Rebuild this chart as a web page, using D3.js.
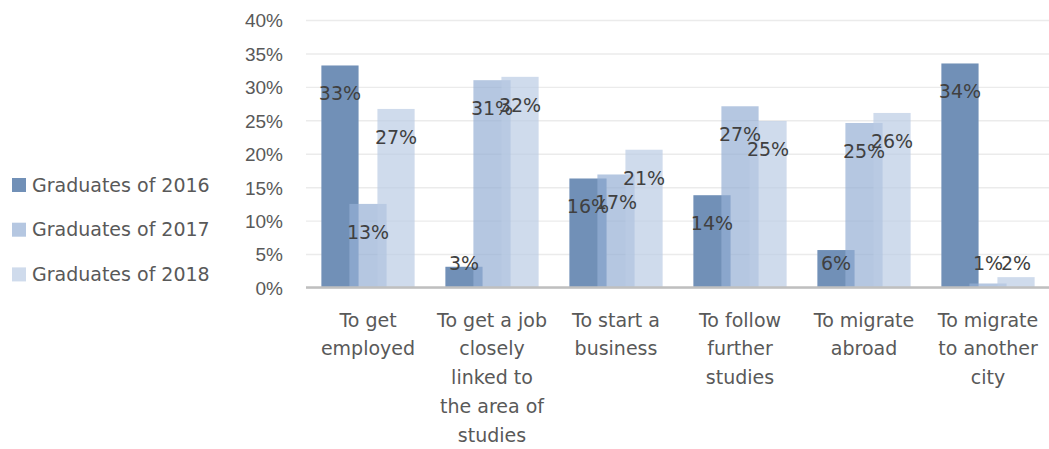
<!DOCTYPE html>
<html>
<head>
<meta charset="utf-8">
<script src="https://cdn.jsdelivr.net/npm/d3@7"></script>
<style>
  html, body { margin: 0; padding: 0; background: #fff; }
  svg { display: block; font-family: 'DejaVu Sans', sans-serif; }
</style>
</head>
<body>
<svg id="chart" width="1049" height="449"></svg>
<script>
// category labels, already broken into lines as in the picture
const categories = [
  ['To get', 'employed'],
  ['To get a job', 'closely', 'linked to', 'the area of', 'studies'],
  ['To start a', 'business'],
  ['To follow', 'further', 'studies'],
  ['To migrate', 'abroad'],
  ['To migrate', 'to another', 'city']
];
const series = ['Graduates of 2016', 'Graduates of 2017', 'Graduates of 2018'];
const grad2016 = [0.332, 0.031, 0.163, 0.138, 0.056, 0.335];
const grad2017 = [0.125, 0.310, 0.169, 0.271, 0.246, 0.006];
const grad2018 = [0.267, 0.315, 0.206, 0.249, 0.261, 0.0155];
const yTicks = [0, 0.05, 0.10, 0.15, 0.20, 0.25, 0.30, 0.35, 0.40];

const values = [grad2016, grad2017, grad2018];
const colors = ['#7190b7', '#95afd4', '#bacce4'];
const opacities = [1, 0.7, 0.7];

const width = 1049, height = 449;
const plot = { left: 306, right: 1050, top: 20, bottom: 287.5 };

const svg = d3.select('#chart');
const catKeys = categories.map(c => c.join(' '));

const x = d3.scaleBand()
  .domain(catKeys)
  .range([plot.left, plot.right])
  .paddingInner(0)
  .paddingOuter(0);

const y = d3.scaleLinear()
  .domain([0, 0.4])
  .range([plot.bottom, plot.top]);

const barW = x.bandwidth() * 0.3;
// bars overlap: centres 28px apart, narrower than bar width
const offset = d3.scalePoint()
  .domain(series)
  .range([-x.bandwidth() * 0.226, x.bandwidth() * 0.226]);

// gridlines + y tick labels
const yAxis = svg.append('g')
  .attr('transform', `translate(${plot.left},0)`)
  .call(d3.axisLeft(y)
    .tickValues(yTicks)
    .tickSize(-(width - plot.left))
    .tickPadding(23)
    .tickFormat(d3.format('.0%')));
yAxis.select('.domain').remove();
yAxis.selectAll('.tick line')
  .attr('stroke', '#ebebeb')
  .attr('stroke-width', 1.4);
yAxis.selectAll('.tick text')
  .attr('fill', '#595959')
  .attr('font-size', 19)
  .attr('dy', '0.36em');

// bars
series.forEach((s, si) => {
  svg.append('g')
    .selectAll('rect')
    .data(values[si])
    .join('rect')
    .attr('x', (d, i) => x(catKeys[i]) + x.bandwidth() / 2 + offset(s) - barW / 2)
    .attr('y', d => y(d))
    .attr('width', barW)
    .attr('height', d => y(0) - y(d))
    .attr('fill', colors[si])
    .attr('fill-opacity', opacities[si]);
});

// x axis line
svg.append('line')
  .attr('x1', plot.left).attr('x2', width)
  .attr('y1', y(0)).attr('y2', y(0))
  .attr('stroke', '#bfbfbf')
  .attr('stroke-width', 2.5);

// data labels, inside end, kept above the axis
series.forEach((s, si) => {
  svg.append('g')
    .selectAll('text')
    .data(values[si])
    .join('text')
    .attr('x', (d, i) => x(catKeys[i]) + x.bandwidth() / 2 + offset(s))
    .attr('y', d => Math.min(y(d) + 35, 269.5))
    .attr('text-anchor', 'middle')
    .attr('font-size', 19)
    .attr('fill', '#404040')
    .text(d => d3.format('.0%')(d));
});

// category labels
const catLabels = svg.append('g')
  .selectAll('text')
  .data(categories)
  .join('text')
  .attr('text-anchor', 'middle')
  .attr('font-size', 19)
  .attr('fill', '#595959')
  .attr('transform', (d, i) => `translate(${x(catKeys[i]) + x.bandwidth() / 2},326.7)`);
catLabels.selectAll('tspan')
  .data(d => d)
  .join('tspan')
  .attr('x', 0)
  .attr('y', (d, i) => i * 28.8)
  .text(d => d);

// legend
const legend = svg.append('g')
  .selectAll('g')
  .data(series)
  .join('g')
  .attr('transform', (d, i) => `translate(12,${185 + i * 44.7})`);
legend.append('rect')
  .attr('y', -7)
  .attr('width', 14)
  .attr('height', 14)
  .attr('fill', (d, i) => colors[i])
  .attr('fill-opacity', (d, i) => opacities[i]);
legend.append('text')
  .attr('x', 20)
  .attr('y', 6.7)
  .attr('font-size', 19)
  .attr('fill', '#595959')
  .text(d => d);
</script>
</body>
</html>
